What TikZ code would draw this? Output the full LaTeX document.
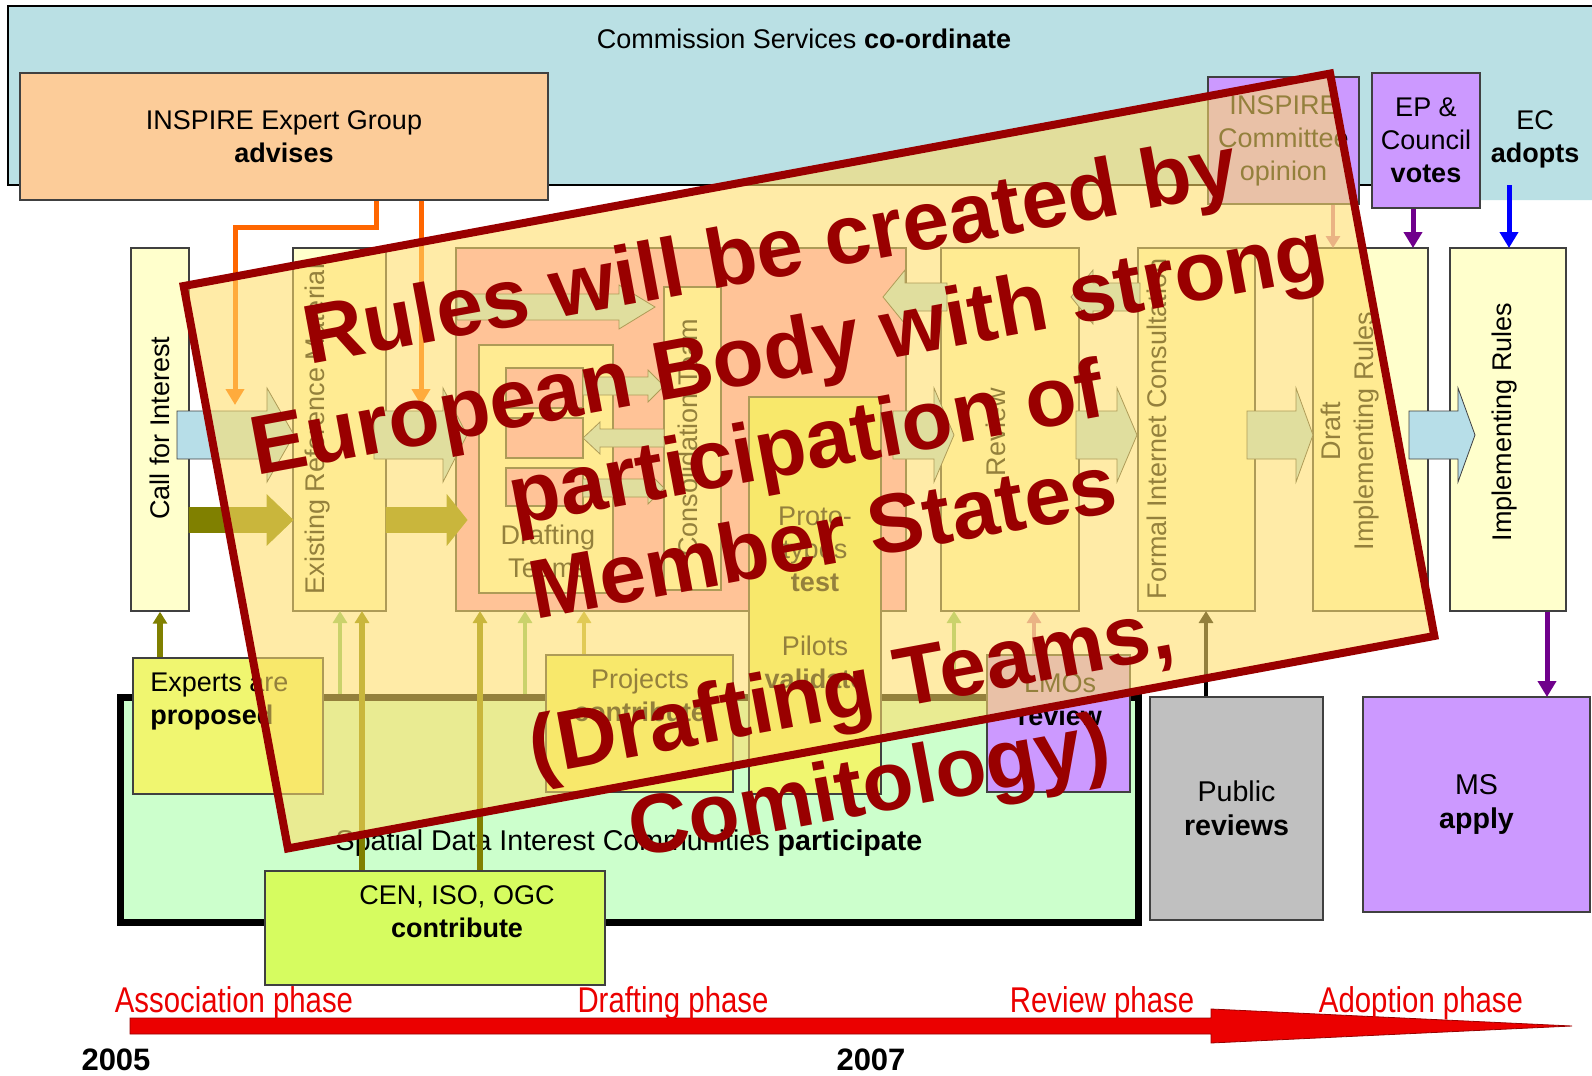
\documentclass[tikz,border=0pt]{standalone}
\usepackage{fontspec}
\setmainfont{Liberation Sans}
\newfontfamily\narrowfont{Liberation Sans}[FakeStretch=0.82]
\usetikzlibrary{arrows.meta,fit}

\definecolor{csblue}{RGB}{186,224,228}
\definecolor{advorange}{RGB}{252,204,153}
\definecolor{lineorange}{RGB}{255,102,0}
\definecolor{colyellow}{RGB}{255,255,204}
\definecolor{draftpink}{RGB}{255,160,215}
\definecolor{flowblue}{RGB}{183,222,232}
\definecolor{flowolive}{RGB}{128,128,0}
\definecolor{lilac}{RGB}{204,153,255}
\definecolor{sdicgreen}{RGB}{204,255,204}
\definecolor{partyellow}{RGB}{240,246,112}
\definecolor{stdlime}{RGB}{214,252,96}
\definecolor{pubgray}{RGB}{192,192,192}
\definecolor{darkpurple}{RGB}{112,0,140}
\definecolor{ruleyellow}{RGB}{255,222,105}
\definecolor{rulered}{RGB}{153,0,0}
\definecolor{phasered}{RGB}{235,0,0}
\definecolor{edgegray}{RGB}{64,64,64}
\definecolor{liftgreen}{RGB}{130,195,110}
\definecolor{liftkhaki}{RGB}{185,175,60}
\definecolor{liftpink}{RGB}{205,120,170}

\newcommand{\lblfont}{\fontsize{13.5}{16.5}\selectfont}
\newcommand{\sdicfont}{\fontsize{14.3}{17}\selectfont}
\newcommand{\bannerfont}{\fontsize{41.8}{50}\selectfont\bfseries}
\newcommand{\flowarrow}[7]{%
  \filldraw[#1] (#2,#5-#6) -- (#3,#5-#6) -- (#3,#5-#7) -- (#4,#5)
    -- (#3,#5+#7) -- (#3,#5+#6) -- (#2,#5+#6) -- cycle;}

\tikzset{
  box/.style={draw=edgegray, line width=0.7pt, inner sep=0pt},
  lbl/.style={align=center, font=\lblfont},
  coltext/.style={rotate=90, align=center, font=\lblfont},
  flowb/.style={fill=flowblue, draw=edgegray, line width=0.4pt},
  flowo/.style={fill=flowolive, draw=flowolive, line width=0.4pt},
  advice/.style={draw=lineorange, line width=2.5pt, -{Triangle[width=9pt,length=8pt]}},
  lift/.style={line width=2pt, -{Triangle[width=7pt,length=6pt]}},
  vote/.style={draw=darkpurple, line width=2.5pt, -{Triangle[width=9pt,length=8pt]}},
  phase/.style={text=phasered, font=\narrowfont\fontsize{17.9}{20}\selectfont},
  year/.style={font=\fontsize{15.5}{18}\selectfont\bfseries, inner sep=0pt},
  banner/.style={anchor=base, transform shape, text=rulered, font=\bannerfont, inner sep=0pt}
}

\begin{document}
\begin{tikzpicture}[x=0.5pt, y=-0.5pt]
\useasboundingbox (0,0) rectangle (1592,1076);
\fill[white] (0,0) rectangle (1592,1076);

% Commission services
\fill[csblue] (8,6) -| (1600,200) -| (1480,185) -- (8,185) -- cycle;
\draw[black, line width=0.8pt] (1600,6) -- (8,6) -- (8,185) -- (1480,185);
\node[lbl] (cstext) at (804,39) {Commission Services \textbf{co-ordinate}};

\node[box, fill=advorange, fit={(20,73) (548,200)}] (expert) {};
\node[lbl] (expertt) at (expert) {INSPIRE Expert Group\\\textbf{advises}};
\node[box, fill=lilac, fit={(1208,77) (1359,204)}] (committee) {};
\node[lbl] (committeet) at (committee) {INSPIRE\\Committee\\opinion};
\node[box, fill=lilac, fit={(1372,73) (1480,208)}] (ep) {};
\node[lbl] (ept) at (ep) {EP \&\\Council\\\textbf{votes}};
\node[lbl] (ec) at (1535,139) {EC\\\textbf{adopts}};

% columns
\node[box, fill=colyellow, fit={(131,248) (189,611)}] (call) {};
\node[box, fill=colyellow, fit={(293,248) (386,611)}] (existing) {};
\node[box, fill=draftpink, fit={(456,248) (906,611)}] (drafting) {};
\node[box, fill=colyellow, fit={(479,345) (613,593)}] (teams) {};
\node[box, fill=draftpink, fit={(506,368) (583,408)}] (teamA) {};
\node[box, fill=draftpink, fit={(506,418) (583,458)}] (teamB) {};
\node[box, fill=draftpink, fit={(506,468) (583,506)}] (teamC) {};
\node[lbl] (teamst) at (548,551) {Drafting\\Teams};
\node[box, fill=colyellow, fit={(664,287) (721,590)}] (consol) {};
\node[box, fill=colyellow, fit={(941,248) (1079,611)}] (review) {};
\node[box, fill=colyellow, fit={(1138,248) (1255,611)}] (formal) {};
\node[box, fill=colyellow, fit={(1313,248) (1428,611)}] (draftir) {};
\node[box, fill=colyellow, fit={(1450,248) (1566,611)}] (impl) {};

\node[coltext] (callt) at (160,428) {Call for Interest};
\node[coltext] (existingt) at (318,429) {Existing Reference Material};
\node[coltext] (consolt) at (688,438) {Consolidation Team};
\node[coltext] (reviewt) at (996,432) {Review};
\node[coltext] (formalt) at (1157,429) {Formal Internet Consultation};
\node[coltext] (draftirt) at (1350,431) {Draft\\Implementing Rules};
\node[coltext] (implt) at (1505,422) {Implementing Rules};

% participants
\node[draw=black, line width=3.5pt, fill=sdicgreen, inner sep=0pt, fit={(120,697) (1138,922)}] (sdic) {};
\node[font=\sdicfont] (sdict) at (629,843) {Spatial Data Interest Communities \textbf{participate}};
\node[box, fill=partyellow, fit={(749,397) (881,794)}] (pilots) {};
\node[lbl] (protot) at (815,549) {Proto-\\types\\\textbf{test}};
\node[lbl] (pilotst) at (815,662) {Pilots\\\textbf{validate}};
\node[box, fill=partyellow, fit={(133,658) (323,794)}] (experts) {};
\node[font=\lblfont, align=left, anchor=west, inner sep=0pt] (expertst) at (150,702) {Experts are\\\textbf{proposed}};
\node[box, fill=partyellow, fit={(546,655) (733,792)}] (projects) {};
\node[lbl] (projectst) at (640,695) {Projects\\\textbf{contribute}};
\node[box, fill=lilac, fit={(987,655) (1130,792)}] (lmos) {};
\node[lbl] (lmost) at (1060,700) {LMOs\\\textbf{review}};
\node[box, fill=stdlime, fit={(265,871) (605,985)}] (cen) {};
\node[lbl] (cent) at (457,912) {CEN, ISO, OGC\\\textbf{contribute}};
\node[box, fill=pubgray, fit={(1150,697) (1323,920)}] (public) {};
\node[lbl, font=\sdicfont] (publict) at (public) {Public\\\textbf{reviews}};
\node[box, fill=lilac, fit={(1363,697) (1590,912)}] (ms) {};
\node[lbl, font=\sdicfont] (mst) at (ms) {MS\\\textbf{apply}};

% flow arrows
\flowarrow{flowb}{177}{267}{294}{435}{24}{47}
\flowarrow{flowo}{189}{267}{293}{520}{12.5}{25}
\flowarrow{flowb}{374}{443}{467}{435}{24}{47}
\flowarrow{flowo}{386}{447}{467}{520}{12.5}{25}
\flowarrow{flowb}{457}{619}{655}{307}{13}{22}
\flowarrow{flowb}{583}{648}{664}{386}{9}{16}
\flowarrow{flowb}{664}{600}{583}{438}{9}{16}
\flowarrow{flowb}{583}{648}{664}{488}{9}{16}
\flowarrow{flowb}{947}{905}{883}{297}{14}{27}
\flowarrow{flowb}{1140}{1093}{1071}{297}{14}{27}
\flowarrow{flowb}{893}{934}{954}{435}{24}{47}
\flowarrow{flowb}{1076}{1117}{1137}{435}{24}{47}
\flowarrow{flowb}{1247}{1296}{1313}{435}{24}{47}
\flowarrow{flowb}{1409}{1458}{1475}{435}{24}{47}

% advice
\coordinate (advtipA) at (235,405);
\coordinate (advtipB) at (421,405);
\draw[advice] (expert.south) ++(92,0) -- ++(0,27) -| (advtipA);
\draw[advice] (expert.south) ++(137,0) -- (advtipB);

% contributions
\coordinate (cenA) at (362,611);
\coordinate (cenB) at (480,611);
\coordinate (sdicA) at (340,611);
\coordinate (sdicB) at (525,611);
\coordinate (sdicC) at (954,611);
\coordinate (projA) at (584,611);
\coordinate (lmoA) at (1034,611);
\coordinate (pubA) at (1206,611);
\draw[lift, draw=flowolive, line width=3pt] (call.south |- experts.north) -- (call.south);
\draw[lift, draw=flowolive, line width=3pt] (cenA |- cen.north) -- (cenA);
\draw[lift, draw=flowolive, line width=3pt] (cenB |- cen.north) -- (cenB);
\draw[lift, draw=liftgreen] (sdicA |- sdic.north) -- (sdicA);
\draw[lift, draw=liftgreen] (sdicB |- sdic.north) -- (sdicB);
\draw[lift, draw=liftgreen] (sdicC |- sdic.north) -- (sdicC);
\draw[lift, draw=liftkhaki] (projA |- projects.north) -- (projA);
\draw[lift, draw=liftpink] (lmoA |- lmos.north) -- (lmoA);
\draw[lift, draw=black] (pubA |- public.north) -- (pubA);

% adoption
\coordinate (opinA) at (1333,248);
\coordinate (voteA) at (1413,248);
\coordinate (adoptB) at (1509,185);
\coordinate (adoptA) at (1509,248);
\coordinate (msA) at (1547,697);
\draw[lift, draw=liftpink] (opinA |- committee.south) -- (opinA);
\draw[vote] (voteA |- ep.south) -- (voteA);
\draw[vote, draw=blue] (adoptB) -- (adoptA);
\draw[vote] (msA |- impl.south) -- (msA);

% timeline
\filldraw[fill=phasered, draw=rulered, line width=0.4pt] (130,1018) -- (1211,1018) -- (1211,1009)
  -- (1572,1026) -- (1211,1043) -- (1211,1034) -- (130,1034) -- cycle;
\node[phase] (assoc) at (234,1003) {Association phase};
\node[phase] (draftph) at (673,1003) {Drafting phase};
\node[phase] (reviewph) at (1102,1003) {Review phase};
\node[phase] (adoptph) at (1421,1003) {Adoption phase};
\node[year] (y2005) at (116,1060) {2005};
\node[year] (y2007) at (871,1060) {2007};

% banner
\begin{scope}[shift={(809,461)}, rotate=10.5]
  \filldraw[draw=rulered, line width=4pt, fill=ruleyellow, fill opacity=0.58] (-583,-286) rectangle (583,286);
  \node[banner] (b1) at (0,-186) {Rules will be created by};
  \node[banner] (b2) at (0,-86) {European Body with strong};
  \node[banner] (b3) at (0,10) {participation of};
  \node[banner] (b4) at (0,106) {Member States};
  \node[banner] (b5) at (0,259) {(Drafting Teams,};
  \node[banner] (b6) at (0,358) {Comitology)};
\end{scope}
\end{tikzpicture}
\end{document}
